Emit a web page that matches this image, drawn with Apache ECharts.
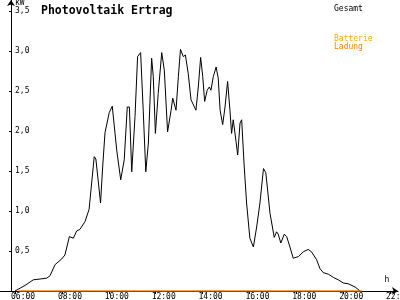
<!DOCTYPE html>
<html>
<head>
<meta charset="utf-8">
<script src="https://cdn.jsdelivr.net/npm/echarts@6/dist/echarts.min.js"></script>
<style>html,body{margin:0;padding:0;background:#fff}#c{width:400px;height:300px}</style>
</head>
<body>
<div id="c"></div>
<script>
var titleText = 'Photovoltaik Ertrag';
var seriesNames = ['Gesamt', 'Batterie Ladung'];
var xTickHours = [6, 8, 10, 12, 14, 16, 18, 20, 22];
var yTickValues = [0, 0.5, 1, 1.5, 2, 2.5, 3, 3.5];
var yLabelValues = [0.5, 1, 1.5, 2, 2.5, 3, 3.5];
var gesamtHours = [6.00,6.43,6.78,7.07,7.35,7.49,7.71,7.99,8.13,8.32,8.49,8.63,8.77,8.99,9.16,9.27,9.38,9.45,9.56,9.65,9.74,9.84,10.02,10.15,10.34,10.51,10.66,10.79,10.88,10.98,11.12,11.23,11.36,11.47,11.58,11.69,11.83,11.90,11.99,12.11,12.26,12.37,12.51,12.66,12.73,12.87,12.97,13.06,13.18,13.27,13.39,13.51,13.72,13.82,13.92,14.01,14.09,14.20,14.29,14.36,14.46,14.58,14.67,14.75,14.86,14.96,15.07,15.17,15.24,15.31,15.43,15.50,15.60,15.67,15.77,15.88,16.02,16.17,16.31,16.45,16.60,16.70,16.88,17.06,17.16,17.23,17.34,17.49,17.59,17.73,17.87,18.09,18.30,18.51,18.65,18.87,19.01,19.15,19.37,19.58,19.79,20.01,20.22,20.51,20.72];
var gesamtKW = [0.00,0.07,0.14,0.15,0.16,0.19,0.33,0.40,0.45,0.68,0.66,0.75,0.77,0.87,1.02,1.35,1.68,1.65,1.35,1.10,1.55,1.98,2.23,2.31,1.76,1.39,1.64,2.30,2.30,1.49,2.18,2.93,2.98,2.26,1.49,1.85,2.91,2.68,1.97,2.47,2.98,2.76,1.99,2.26,2.41,2.26,2.68,3.02,2.93,2.95,2.72,2.39,2.26,2.55,2.92,2.68,2.37,2.51,2.55,2.51,2.68,2.80,2.66,2.26,2.08,2.30,2.62,2.26,1.97,2.14,1.87,1.70,2.10,2.14,1.60,1.10,0.66,0.55,0.80,1.10,1.53,1.48,0.97,0.67,0.74,0.71,0.60,0.71,0.68,0.55,0.41,0.43,0.49,0.52,0.49,0.39,0.28,0.23,0.21,0.17,0.14,0.10,0.09,0.05,0.00];
var ladungHours = [6.15, 20.79];
var ladungKW = [0, 0];

var mono = 'DejaVu Sans Mono';
function pair(xs, ys) { return xs.map(function (x, i) { return [x, ys[i]]; }); }
function hh(v) { var h = Math.round(v); return (h < 10 ? '0' : '') + h + ':00'; }

var chart = echarts.init(document.getElementById('c'), null, {renderer: 'canvas'});
chart.setOption({
  animation: false,
  backgroundColor: '#fff',
  title: {
    text: titleText, left: 36, top: 0,
    textStyle: {fontFamily: mono, fontSize: 11.5, fontWeight: 'bold', color: '#000'}
  },
  legend: {
    orient: 'vertical', left: 324, top: 0, itemWidth: 0, itemHeight: 0, itemGap: 22,
    selectedMode: false, icon: 'rect',
    data: seriesNames,
    formatter: function (n) { return n === 'Gesamt' ? '{g|Gesamt}' : '{a|Batterie}\n{b|Ladung}'; },
    textStyle: {
      fontFamily: mono, fontSize: 8,
      rich: {
        g: {fontFamily: mono, fontSize: 8, color: '#000', lineHeight: 8},
        a: {fontFamily: mono, fontSize: 8, color: '#ffaa00', lineHeight: 8},
        b: {fontFamily: mono, fontSize: 8, color: '#ff8000', lineHeight: 8}
      }
    }
  },
  grid: {left: 0, right: 2, top: 0, bottom: 9, containLabel: false, outerBoundsMode: 'none'},
  xAxis: {
    type: 'value', min: 5.36, max: 22.34,
    name: 'h', nameLocation: 'end', nameGap: -11,
    nameTextStyle: {fontFamily: mono, fontSize: 8, color: '#000', align: 'center', verticalAlign: 'bottom', padding: [0, 0, 7, 0]},
    axisLine: {show: true, lineStyle: {color: '#000', width: 1}, symbol: ['none', 'arrow'], symbolSize: [6, 6], symbolOffset: [0, 0]},
    axisTick: {show: true, length: 3, lineStyle: {color: '#000'}, customValues: xTickHours},
    axisLabel: {
      show: true, customValues: xTickHours, formatter: hh, margin: 2,
      fontFamily: mono, fontSize: 8, color: '#000', align: 'left', padding: [0, 0, 0, -4],
      alignMinLabel: 'left', alignMaxLabel: 'left',
      showMinLabel: true, showMaxLabel: true, hideOverlap: false
    },
    splitLine: {show: false}
  },
  yAxis: {
    type: 'value', min: 0, max: 3.6375, offset: -11,
    name: 'kW', nameLocation: 'end', nameGap: 0,
    nameTextStyle: {fontFamily: mono, fontSize: 8, color: '#000', align: 'left', verticalAlign: 'top', padding: [0, 0, 0, 4]},
    axisLine: {show: true, onZero: false, lineStyle: {color: '#000', width: 1}, symbol: ['none', 'arrow'], symbolSize: [6, 6]},
    axisTick: {show: true, length: 2, lineStyle: {color: '#000'}, customValues: yTickValues},
    axisLabel: {
      show: true, inside: true, margin: 4, customValues: yLabelValues,
      formatter: function (v) { return v.toFixed(1).replace('.', ','); },
      fontFamily: mono, fontSize: 8, color: '#000'
    },
    splitLine: {show: false}
  },
  series: [
    {
      name: seriesNames[0], type: 'line', showSymbol: false, symbol: 'none',
      data: pair(gesamtHours, gesamtKW),
      lineStyle: {color: '#000', width: 1}, itemStyle: {color: '#000'}, z: 3
    },
    {
      name: seriesNames[1], type: 'line', showSymbol: false, symbol: 'none',
      data: pair(ladungHours, ladungKW),
      lineStyle: {color: '#ff8000', width: 1.5}, itemStyle: {color: '#ff8000'}, z: 4
    }
  ]
});
</script>
</body>
</html>
